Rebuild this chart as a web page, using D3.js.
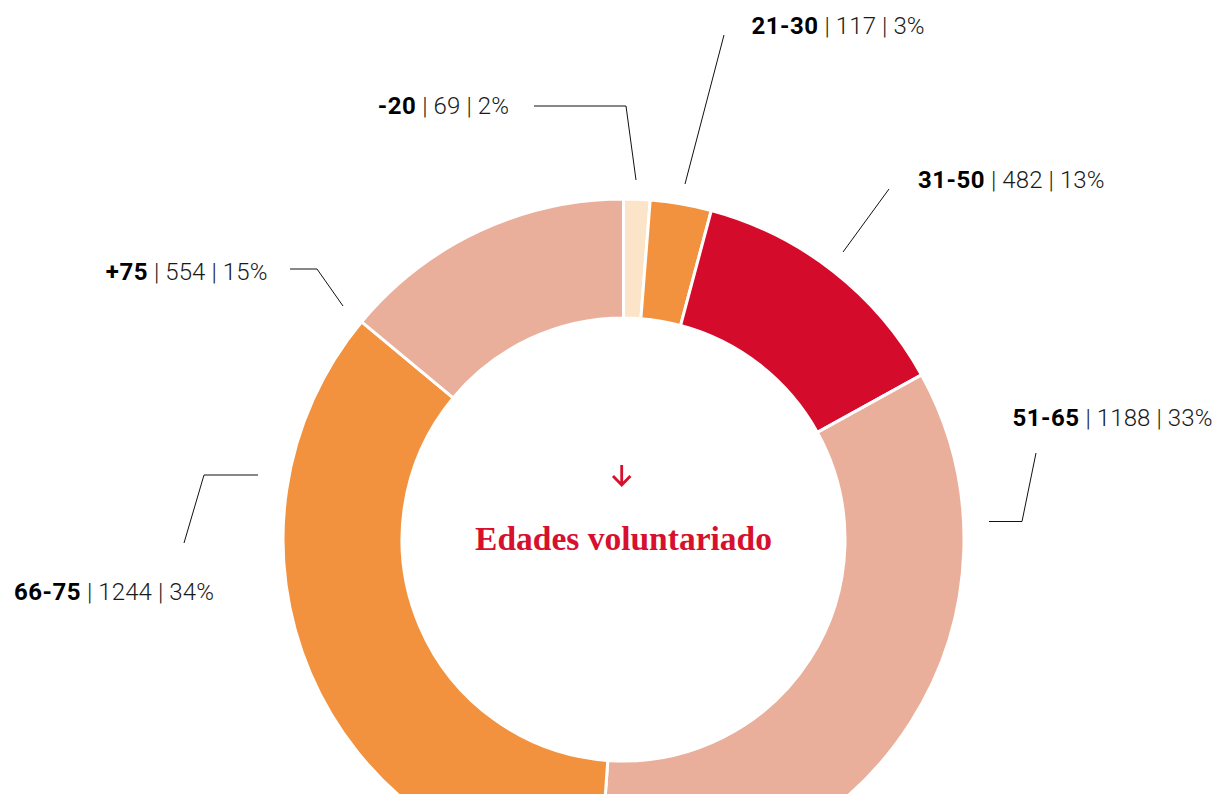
<!DOCTYPE html>
<html>
<head>
<meta charset="utf-8">
<script src="https://cdn.jsdelivr.net/npm/d3@7/dist/d3.min.js"></script>
<style>
    html, body { margin: 0; padding: 0; background: #fff; }
    svg { display: block; }
    .label { font-family: Roboto, "Liberation Sans", sans-serif; font-size: 24px; fill: #1a1a1a; }
    .label .cat { font-weight: 700; fill: #000; letter-spacing: 0.5px; }
    .label .num { font-weight: 300; letter-spacing: 0.1px; }
    .leader { fill: none; stroke: #111; stroke-width: 1; }
    .title { font-family: "Liberation Serif", "DejaVu Serif", serif; font-weight: 700; font-size: 33.5px; fill: #d6102d; }
</style>
</head>
<body>
<svg id="chart" width="1216" height="794"></svg>
<script>
// age groups and volunteers per group (from the labels)
const categories = ["-20", "21-30", "31-50", "51-65", "66-75", "+75"];
const counts = [69, 117, 482, 1188, 1244, 554];
const percents = ["2%", "3%", "13%", "33%", "34%", "15%"];
// share of the ring each slice takes in the picture (in %)
const arcShares = [1.25, 2.9, 12.82, 34.16, 34.91, 13.96];
const colors = ["#fce4c8", "#f2923e", "#d50b2b", "#eaaf9b", "#f2923e", "#eaaf9b"];

const title = "Edades voluntariado";

const cx = 623.5;
const cy = 539.5;
const outerR = 340.5;
const innerR = 221.5;

// leader lines and label spots, offsets from the centre
const labelLayout = [
    { line: [[12.5, -359.5], [2.5, -433.5], [-89.5, -433.5]], text: [-114.5, -425.5], anchor: "end" },
    { line: [[61.5, -355.5], [100.5, -504.5]], text: [128, -506], anchor: "start" },
    { line: [[219.5, -287.5], [265.5, -350.5]], text: [294.5, -351.5], anchor: "start" },
    { line: [[365.5, -18], [398.5, -18], [412.5, -86.5]], text: [389, -114], anchor: "start" },
    { line: [[-365.5, -64.5], [-419.5, -64.5], [-439.5, 3.5]], text: [-609.5, 60.5], anchor: "start" },
    { line: [[-280.5, -233.5], [-306.5, -270.5], [-333.5, -270.5]], text: [-356, -259.5], anchor: "end" }
];

const svg = d3.select("#chart");
const chart = svg.append("g")
    .attr("transform", `translate(${cx}, ${cy})`);

const rows = categories.map((c, i) => ({
    cat: c,
    count: counts[i],
    pct: percents[i],
    share: arcShares[i],
    color: colors[i]
}));

const pie = d3.pie()
    .sort(null)
    .value((d) => d.share);

const arc = d3.arc()
    .innerRadius(innerR)
    .outerRadius(outerR);

// donut slices
chart.selectAll(".slice")
    .data(pie(rows))
    .enter()
    .append("path")
    .attr("class", "slice")
    .attr("d", arc)
    .attr("fill", (d) => d.data.color)
    .attr("stroke", "#fff")
    .attr("stroke-width", 3)
    .attr("stroke-linejoin", "miter");

// leader lines
const line = d3.line();
chart.selectAll(".leader")
    .data(labelLayout)
    .enter()
    .append("path")
    .attr("class", "leader")
    .attr("d", (d) => line(d.line));

// labels: bold group | count | percent
const labels = chart.selectAll(".label")
    .data(rows)
    .enter()
    .append("text")
    .attr("class", "label")
    .attr("x", (d, i) => labelLayout[i].text[0])
    .attr("y", (d, i) => labelLayout[i].text[1])
    .attr("text-anchor", (d, i) => labelLayout[i].anchor);

labels.append("tspan").attr("class", "cat").text((d) => d.cat);
labels.append("tspan").attr("class", "num").text((d) => ` | ${d.count} | ${d.pct}`);

// arrow and title in the hole
chart.append("path")
    .attr("d", "M-1.8,-74.5 L-1.8,-55 M-10.5,-63.5 L-1.8,-54.5 L6.9,-63.5")
    .attr("fill", "none")
    .attr("stroke", "#d6102d")
    .attr("stroke-width", 2.8);

chart.append("text")
    .attr("class", "title")
    .attr("x", 0)
    .attr("y", 10)
    .attr("text-anchor", "middle")
    .text(title);
</script>
</body>
</html>
